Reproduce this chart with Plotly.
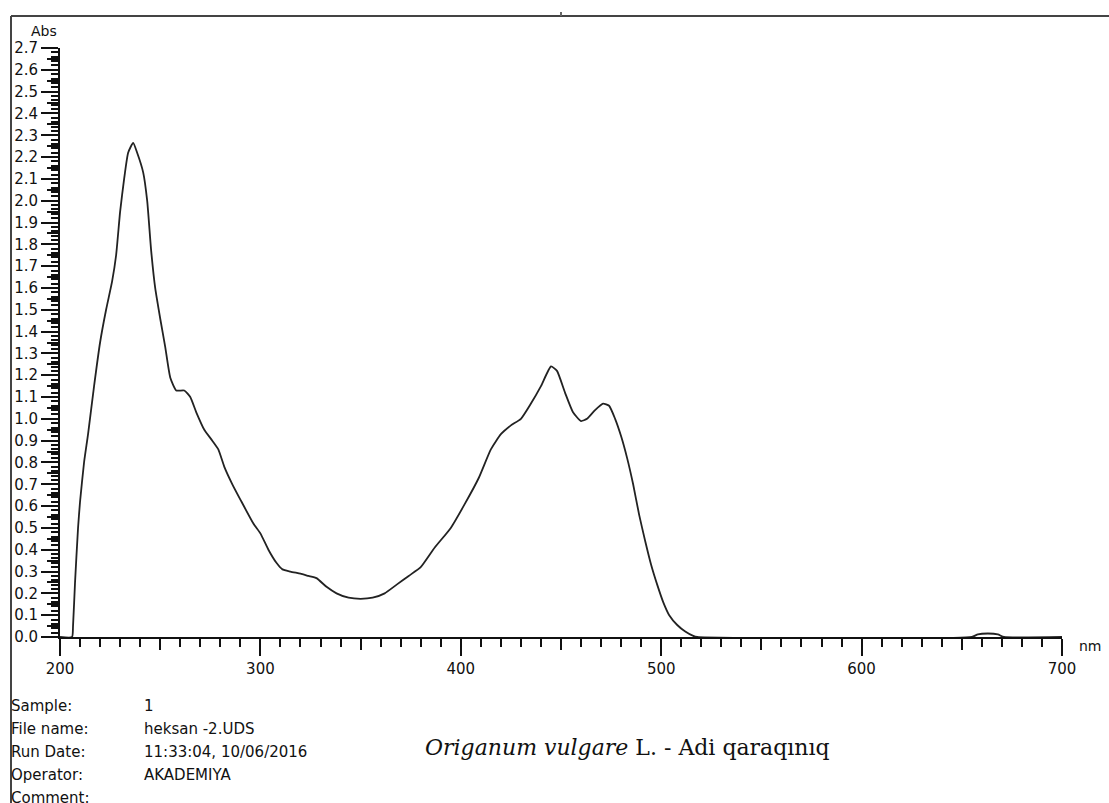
import plotly.graph_objects as go

# Spectrum data (wavelength nm, absorbance)
wavelength = [200, 206, 206.5, 207.5, 209, 210, 212, 214, 217, 220, 223, 226, 228, 230, 232, 234,
              236.5, 238.5, 241.5, 243.5, 245.5, 247.5, 250, 252.5, 255, 258, 262, 265, 268, 272,
              276, 279, 282, 286, 290, 296.5, 300, 304, 308, 311, 315, 320, 324, 328, 333, 338,
              344, 350, 356, 362, 368, 374, 380, 387, 395, 402, 409, 415, 420, 425, 430, 435,
              440, 445, 448, 452, 456, 460, 463, 467, 471, 474, 477, 480, 483, 486, 489, 492,
              495, 498, 501, 504, 508, 512, 516, 518, 655, 658, 663, 668, 671, 700]
absorbance = [0.0, 0.0, 0.05, 0.25, 0.5, 0.62, 0.8, 0.93, 1.15, 1.35, 1.5, 1.63, 1.75, 1.95, 2.1, 2.22,
              2.265, 2.22, 2.13, 2.0, 1.77, 1.6, 1.46, 1.33, 1.19, 1.13, 1.13, 1.1, 1.03, 0.95,
              0.9, 0.86, 0.78, 0.7, 0.63, 0.52, 0.475, 0.4, 0.34, 0.31, 0.3, 0.29, 0.28, 0.27, 0.23, 0.2,
              0.18, 0.175, 0.18, 0.2, 0.24, 0.28, 0.32, 0.41, 0.5, 0.61, 0.73, 0.86, 0.93, 0.97, 1.0, 1.07,
              1.15, 1.24, 1.22, 1.12, 1.03, 0.99, 1.0, 1.04, 1.07, 1.06, 1.0, 0.92, 0.82, 0.7, 0.56, 0.44,
              0.33, 0.24, 0.16, 0.1, 0.055, 0.025, 0.005, 0.0, 0.0, 0.012, 0.016, 0.012, 0.0, 0.0]

x_major = [200, 300, 400, 500, 600, 700]
x_mid = [250, 350, 450, 550, 650]
y_major = [round(i * 0.1, 1) for i in range(28)]
y_mid = [round(0.05 + i * 0.1, 2) for i in range(27)]

info_labels = ["Sample:", "File name:", "Run Date:", "Operator:", "Comment:"]
info_values = ["1", "heksan -2.UDS", "11:33:04, 10/06/2016", "AKADEMIYA", ""]
caption = "<i>Origanum vulgare</i> L. - Adi qaraqınıq"

W, H = 1109, 803
ML, MR, MT, MB = 60, 47, 48, 166
PW, PH = W - ML - MR, H - MT - MB

def px(xp):
    return (xp - ML) / PW

def py(yp):
    return (H - MB - yp) / PH

SANS = "DejaVu Sans"
TXT = "#111111"

fig = go.Figure()
fig.add_trace(go.Scatter(x=wavelength, y=absorbance, mode="lines",
                         line=dict(color="#222222", width=1.8, shape="spline", smoothing=0.5),
                         hoverinfo="skip", showlegend=False))
fig.add_trace(go.Scatter(x=[], y=[], xaxis="x2", yaxis="y2", showlegend=False))

tickfont = dict(family=SANS, size=15, color=TXT)
fig.update_layout(
    width=W, height=H,
    margin=dict(l=ML, r=MR, t=MT, b=MB),
    paper_bgcolor="white", plot_bgcolor="white",
    showlegend=False,
    xaxis=dict(range=[200, 700], showgrid=False, zeroline=False, showline=True,
               linecolor="#111", linewidth=2, ticks="outside", tickvals=x_major,
               ticklen=17, tickwidth=2, tickcolor="#111", tickfont=tickfont,
               minor=dict(dtick=10, tick0=200, ticks="outside", ticklen=8, tickwidth=2, tickcolor="#111")),
    xaxis2=dict(range=[200, 700], overlaying="x", anchor="y", side="bottom", showgrid=False,
                zeroline=False, showline=False, ticks="outside", tickvals=x_mid, ticklen=12,
                tickwidth=2, tickcolor="#111", showticklabels=False),
    yaxis=dict(range=[0, 2.7], showgrid=False, zeroline=False, showline=True,
               linecolor="#111", linewidth=2, ticks="outside", tickvals=y_major,
               tickformat=".1f", ticklen=17, tickwidth=2, tickcolor="#111", tickfont=tickfont,
               minor=dict(dtick=0.02, tick0=0, ticks="outside", ticklen=7, tickwidth=2, tickcolor="#111")),
    yaxis2=dict(range=[0, 2.7], overlaying="y", anchor="x", side="left", showgrid=False,
                zeroline=False, showline=False, ticks="outside", tickvals=y_mid, ticklen=12,
                tickwidth=2, tickcolor="#111", showticklabels=False),
)

# Outer frame (clipped at right/bottom like the screenshot)
fig.add_shape(type="line", xref="paper", yref="paper", x0=px(11), x1=px(W + 5), y0=py(16), y1=py(16),
              line=dict(color="#444", width=2))
fig.add_shape(type="line", xref="paper", yref="paper", x0=px(11), x1=px(11), y0=py(16), y1=py(H + 5),
              line=dict(color="#444", width=2))
fig.add_shape(type="line", xref="paper", yref="paper", x0=px(561), x1=px(561), y0=py(12), y1=py(16),
              line=dict(color="#666", width=2))

fig.add_annotation(x=px(44), y=py(31), xref="paper", yref="paper", text="Abs", showarrow=False,
                   font=dict(family=SANS, size=14, color=TXT), xanchor="center", yanchor="middle")
fig.add_annotation(x=px(1077), y=py(646), xref="paper", yref="paper", text="nm", showarrow=False,
                   font=dict(family=SANS, size=14, color=TXT), xanchor="left", yanchor="middle")

for i, (lab, val) in enumerate(zip(info_labels, info_values)):
    yy = 706 + 23 * i
    fig.add_annotation(x=px(9), y=py(yy), xref="paper", yref="paper", text=lab, showarrow=False,
                       font=dict(family=SANS, size=15, color=TXT), xanchor="left", yanchor="middle")
    if val:
        fig.add_annotation(x=px(142), y=py(yy), xref="paper", yref="paper", text=val, showarrow=False,
                           font=dict(family=SANS, size=15, color=TXT), xanchor="left", yanchor="middle")

fig.add_annotation(x=px(423), y=py(747), xref="paper", yref="paper", text=caption, showarrow=False,
                   font=dict(family="DejaVu Serif", size=22, color="#111"), xanchor="left", yanchor="middle")

fig.write_html("out.html")
